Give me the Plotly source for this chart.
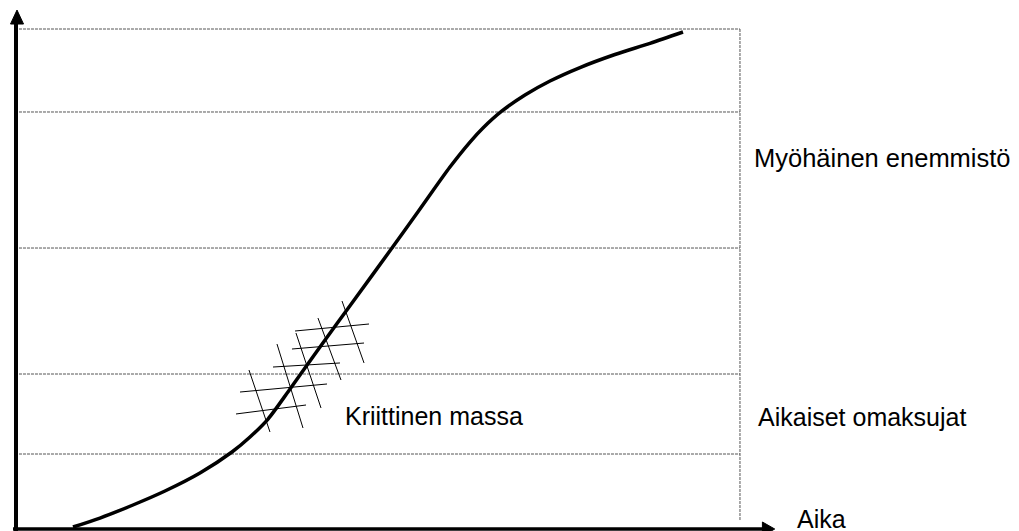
import plotly.graph_objects as go

# S-curve of adoption (time vs. share of adopters, %)
curve_time = [7.87, 11.60, 16.16, 20.58, 25.41, 29.83, 32.32, 34.81, 37.85, 41.99, 46.41,
              51.93, 55.80, 59.94, 62.71, 64.50, 67.13, 70.30, 73.76, 77.90, 82.73, 87.57, 92.13]
curve_share = [0.20, 2.00, 4.61, 7.41, 11.02, 15.23, 18.24, 21.84, 27.86, 36.27, 45.09,
               56.11, 63.93, 72.34, 77.35, 80.16, 83.57, 86.77, 89.58, 92.28, 94.89, 97.13, 99.40]

# dotted reference levels
band_levels = [100, 83.37, 56.11, 30.86, 14.83]
band_start, band_end = 0.41, 100
band_bottom = 1.6

# critical-mass hatch (segment start/end)
hatch_h = [(38.54, 39.48, 48.76, 40.88), (38.12, 35.87, 48.07, 37.07),
           (35.50, 32.26, 44.75, 33.07), (30.94, 27.25, 42.96, 28.86),
           (30.39, 22.85, 40.06, 24.65)]
hatch_v = [(45.03, 45.49, 48.07, 33.07), (41.71, 42.08, 44.89, 29.66),
           (38.67, 39.08, 42.13, 24.05), (36.05, 36.87, 39.64, 20.04),
           (32.18, 31.66, 35.08, 19.24)]

labels = ["Myöhäinen enemmistö", "Kriittinen massa", "Aikaiset omaksujat", "Aika"]
label_t = [101.7, 45.17, 102.2, 107.6]
label_a = [74.1, 22.4, 22.2, 1.9]
label_size = [25.5, 25, 25, 25]

fig = go.Figure()
dash_style = dict(color="#555555", width=1, dash="3px,1px")
for lv in band_levels:
    fig.add_trace(go.Scatter(x=[band_start, band_end], y=[lv, lv], mode="lines",
                             line=dash_style, hoverinfo="skip"))
fig.add_trace(go.Scatter(x=[band_end, band_end], y=[band_bottom, band_levels[0]], mode="lines",
                         line=dash_style, hoverinfo="skip"))

for seg in hatch_h + hatch_v:
    fig.add_trace(go.Scatter(x=[seg[0], seg[2]], y=[seg[1], seg[3]], mode="lines",
                             line=dict(color="black", width=1), hoverinfo="skip"))

fig.add_trace(go.Scatter(x=curve_time, y=curve_share, mode="lines",
                         line=dict(color="black", width=3.5, shape="spline", smoothing=0.8),
                         hoverinfo="skip"))

# axes with arrowheads
fig.add_trace(go.Scatter(x=[0, 0], y=[-0.8, 101.2], mode="lines",
                         line=dict(color="black", width=4), hoverinfo="skip"))
fig.add_trace(go.Scatter(x=[-0.76, 0.14, 1.04, -0.76], y=[101.0, 103.8, 101.0, 101.0],
                         mode="lines", fill="toself", fillcolor="black",
                         line=dict(color="black", width=1), hoverinfo="skip"))
fig.add_trace(go.Scatter(x=[-0.41, 103.3], y=[-0.2, -0.2], mode="lines",
                         line=dict(color="black", width=3.5), hoverinfo="skip"))
fig.add_trace(go.Scatter(x=[103.1, 104.8, 103.1, 103.1], y=[1.2, -0.2, -1.6, 1.2],
                         mode="lines", fill="toself", fillcolor="black",
                         line=dict(color="black", width=1), hoverinfo="skip"))

for txt, t, a, s in zip(labels, label_t, label_a, label_size):
    fig.add_annotation(x=t, y=a, xref="x", yref="y", text=txt, showarrow=False,
                       xanchor="left", yanchor="middle",
                       font=dict(family="Liberation Sans, Arial", size=s, color="black"))

# page has an 8px body margin, so the figure is sized to fill the rest of the window
fig.update_layout(
    width=1011, height=523, margin=dict(l=0, r=0, t=0, b=0),
    paper_bgcolor="white", plot_bgcolor="white", showlegend=False,
    xaxis=dict(range=[-1.105, 138.54], visible=False, fixedrange=True),
    yaxis=dict(range=[-0.601, 104.21], visible=False, fixedrange=True),
)
fig.write_html("out.html", config={"displayModeBar": False})
